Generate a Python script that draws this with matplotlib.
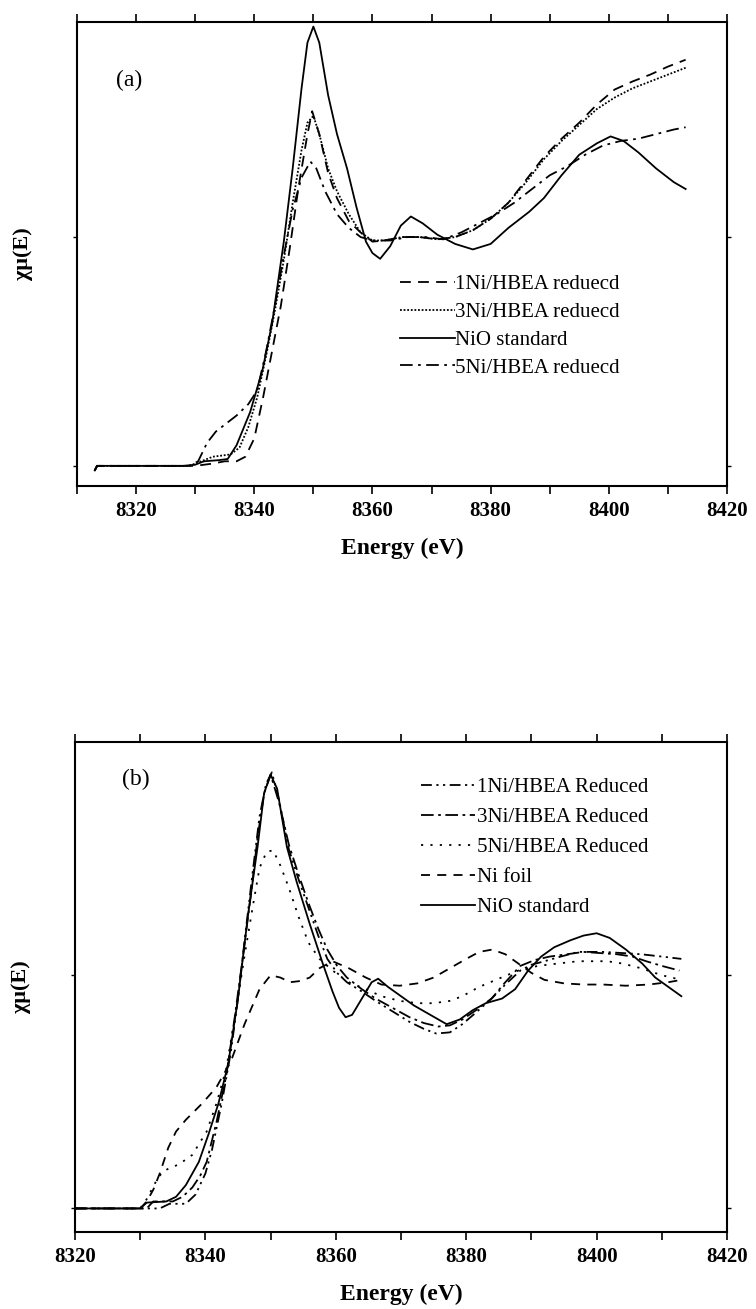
import matplotlib
matplotlib.use("Agg")
import matplotlib.pyplot as plt
from matplotlib.ticker import MultipleLocator

plt.rcParams['font.family'] = ['Liberation Serif', 'DejaVu Serif']

# panel (a) data
a_nio_e = [8313, 8313.4, 8320, 8328, 8330, 8331.5, 8334, 8335.5, 8337, 8339.3, 8341.4, 8343, 8345,
           8346.5, 8348, 8349, 8350, 8351, 8352.5, 8354, 8355.7, 8357.3, 8358.9, 8360, 8361.3,
           8363, 8364.8, 8366.5, 8368.5, 8371, 8374, 8377, 8380, 8383, 8386.5, 8389, 8392,
           8395, 8398, 8400.3, 8402.5, 8405, 8408, 8411, 8413]
a_nio = [-0.02, 0, 0, 0, 0.005, 0.02, 0.025, 0.03, 0.09, 0.235, 0.42, 0.62, 0.98,
         1.30, 1.65, 1.85, 1.92, 1.85, 1.62, 1.45, 1.30, 1.13, 0.98, 0.93, 0.905,
         0.96, 1.05, 1.09, 1.06, 1.01, 0.97, 0.946, 0.97, 1.04, 1.11, 1.17, 1.27,
         1.36, 1.41, 1.44, 1.42, 1.37, 1.30, 1.24, 1.21]

a_1ni_e = [8313, 8313.4, 8320, 8330, 8333, 8335, 8337, 8338.5, 8340, 8341.5, 8343, 8344.5, 8346,
           8347.5, 8349, 8349.8, 8351, 8352.5, 8354, 8356, 8358, 8360, 8362, 8365, 8368,
           8371, 8374, 8377, 8380, 8383, 8386, 8389, 8392, 8395, 8398, 8401, 8404, 8407,
           8410, 8413]
a_1ni = [-0.02, 0, 0, 0, 0.01, 0.02, 0.02, 0.04, 0.12, 0.3, 0.5, 0.7, 0.95,
         1.22, 1.45, 1.55, 1.45, 1.28, 1.17, 1.07, 1.02, 0.98, 0.985, 1.0, 1.0,
         0.99, 1.0, 1.03, 1.08, 1.15, 1.25, 1.35, 1.43, 1.50, 1.58, 1.645, 1.68, 1.71,
         1.745, 1.775]

a_3ni_e = [8313, 8313.4, 8320, 8329, 8331, 8333, 8336, 8337.5, 8339, 8340.5, 8342, 8343.5, 8345,
           8346.5, 8348, 8349, 8350, 8351, 8352.5, 8354, 8356, 8358, 8360, 8362, 8365,
           8368, 8371, 8374, 8377, 8380, 8383, 8386, 8389, 8392, 8395, 8398, 8401, 8404,
           8407, 8410, 8413]
a_3ni = [-0.02, 0, 0, 0, 0.02, 0.04, 0.05, 0.08, 0.17, 0.3, 0.48, 0.68, 0.9,
         1.15, 1.38, 1.5, 1.53, 1.45, 1.3, 1.2, 1.1, 1.02, 0.985, 0.985, 1.0,
         1.0, 0.99, 1.0, 1.03, 1.08, 1.15, 1.24, 1.34, 1.42, 1.49, 1.56, 1.61, 1.65,
         1.68, 1.71, 1.74]

a_5ni_e = [8313, 8313.4, 8320, 8329, 8330.5, 8332, 8333.5, 8335, 8337, 8339, 8340.5, 8342, 8343.5,
           8345, 8346.5, 8348, 8349.5, 8350.5, 8352, 8354, 8356, 8358, 8360, 8363, 8366,
           8369, 8372, 8375, 8378, 8381, 8384, 8387, 8390, 8393, 8396, 8399, 8402, 8405,
           8408, 8411, 8413]
a_5ni = [-0.02, 0, 0, 0, 0.02, 0.1, 0.15, 0.18, 0.22, 0.27, 0.33, 0.5, 0.7,
         0.92, 1.12, 1.26, 1.33, 1.3, 1.2, 1.1, 1.04, 1.0, 0.985, 0.985, 1.0,
         1.0, 0.99, 1.02, 1.06, 1.10, 1.15, 1.21, 1.27, 1.31, 1.36, 1.40, 1.42, 1.43,
         1.45, 1.47, 1.48]

# panel (b) data
b_nio_e = [8320, 8330, 8331, 8334, 8335.5, 8337, 8339, 8340.5, 8342, 8343.5, 8345, 8346.5,
           8348, 8349, 8350, 8351, 8352.5, 8354, 8356, 8358, 8359.5, 8360.5, 8361.5, 8362.5,
           8364, 8365.5, 8366.5, 8368, 8370, 8372, 8374.5, 8377, 8379, 8381, 8383, 8385.5,
           8387.5, 8389.5, 8391.5, 8393.5, 8396, 8398, 8400, 8402, 8404.5, 8407, 8409,
           8411, 8413]
b_nio = [0, 0, 0.025, 0.03, 0.05, 0.1, 0.2, 0.32, 0.45, 0.62, 0.9, 1.25,
         1.55, 1.78, 1.86, 1.8, 1.55, 1.4, 1.22, 1.05, 0.93, 0.86, 0.82, 0.83,
         0.9, 0.97, 0.985, 0.95, 0.91, 0.87, 0.83, 0.79, 0.81, 0.85, 0.88, 0.9,
         0.94, 1.02, 1.08, 1.12, 1.15, 1.17, 1.18, 1.16, 1.11, 1.05, 0.99,
         0.95, 0.91]

b_foil_e = [8320, 8330, 8331, 8332, 8333, 8334.3, 8335.5, 8337, 8339.5, 8341.7, 8343.9, 8346,
            8348.3, 8350, 8351.5, 8353, 8354.5, 8356, 8357.5, 8359.5, 8362, 8364.6, 8367,
            8369.8, 8372.5, 8375, 8377.5, 8380, 8382, 8384, 8386, 8388, 8390, 8392, 8395,
            8398, 8401, 8404.5, 8408, 8411, 8413]
b_foil = [0, 0, 0.03, 0.08, 0.15, 0.26, 0.33, 0.38, 0.45, 0.52, 0.63, 0.79,
          0.94, 1.0, 0.99, 0.97, 0.975, 0.99, 1.03, 1.06, 1.03, 0.99, 0.96,
          0.955, 0.965, 0.99, 1.03, 1.07, 1.1, 1.11, 1.09, 1.05, 1.01, 0.98, 0.965,
          0.96, 0.96, 0.955, 0.96, 0.97, 0.98]

b_5ni_e = [8320, 8330, 8331, 8332.5, 8333.5, 8336, 8338, 8340.2, 8341.7, 8343.2, 8344.7, 8346.1,
           8347.3, 8348.3, 8349.4, 8350.4, 8351.5, 8352.8, 8354.3, 8355.8, 8357.5, 8359.5, 8362,
           8364.6, 8367, 8369.8, 8372.5, 8375, 8377.5, 8379.4, 8382, 8385.4, 8388, 8391, 8394,
           8397.2, 8401.6, 8404, 8406.8, 8410, 8413]
b_5ni = [0, 0, 0.04, 0.12, 0.16, 0.19, 0.23, 0.33, 0.45, 0.6, 0.85, 1.1,
         1.3, 1.46, 1.53, 1.535, 1.47, 1.375, 1.25, 1.14, 1.07, 1.02, 0.97,
         0.94, 0.91, 0.89, 0.88, 0.88, 0.89, 0.91, 0.95, 0.99, 1.02, 1.04, 1.05,
         1.06, 1.06, 1.05, 1.03, 1.0, 0.98]

b_1ni_e = [8320, 8333, 8334.5, 8337, 8338.5, 8340, 8341, 8342.5, 8343.9, 8345, 8346.1, 8347.2,
           8348.3, 8349.3, 8350.2, 8351.3, 8352.8, 8354.3, 8355.8, 8357.3, 8358.7, 8360.2,
           8361.7, 8364, 8366.1, 8368.7, 8371.3, 8373.5, 8375.4, 8377.5, 8379.4, 8381.5,
           8383.9, 8386, 8388.3, 8390, 8392, 8394.5, 8397.2, 8400.9, 8404, 8406.8, 8410, 8413]
b_1ni = [0, 0, 0.02, 0.02, 0.06, 0.15, 0.25, 0.45, 0.67, 0.9, 1.17, 1.43,
         1.68, 1.82, 1.87, 1.75, 1.54, 1.41, 1.29, 1.17, 1.07, 1.01,
         0.97, 0.93, 0.89, 0.845, 0.80, 0.77, 0.75, 0.755, 0.79, 0.84,
         0.90, 0.96, 1.02, 1.045, 1.06, 1.08, 1.10, 1.10, 1.095, 1.09, 1.08, 1.07]

b_3ni_e = [8320, 8331, 8332, 8335, 8336.5, 8338, 8339.2, 8340.2, 8341.7, 8343.2, 8344.5, 8345.8,
           8347, 8348, 8349, 8350, 8351.3, 8352.8, 8354.3, 8355.8, 8357.3, 8358.7, 8360.2,
           8361.7, 8364, 8366.1, 8368.7, 8371.3, 8373.5, 8375.7, 8377.5, 8379.4, 8381.5,
           8383.9, 8386, 8388.3, 8390.5, 8392.8, 8395.5, 8398, 8400.5, 8403.1, 8405.5,
           8407.6, 8410, 8412.7]
b_3ni = [0, 0, 0.03, 0.03, 0.05, 0.09, 0.14, 0.2, 0.37, 0.57, 0.82, 1.09,
         1.35, 1.59, 1.78, 1.86, 1.74, 1.56, 1.43, 1.31, 1.2, 1.11, 1.04,
         0.99, 0.94, 0.90, 0.86, 0.82, 0.795, 0.78, 0.785, 0.81, 0.85,
         0.90, 0.97, 1.04, 1.065, 1.08, 1.09, 1.10, 1.095, 1.09, 1.08,
         1.06, 1.04, 1.02]

lw = 1.3

fig = plt.figure(figsize=(7.56, 13.09), dpi=100)
ax1 = fig.add_axes([77/756, 1 - 486/1309, 650/756, 464/1309])
ax2 = fig.add_axes([75/756, 1 - 1232/1309, 652/756, 490/1309])


def style_axis(ax, xmin, ymin, ymax):
    ax.set_xlim(xmin, 8420)
    ax.set_ylim(ymin, ymax)
    ax.xaxis.set_major_locator(MultipleLocator(20))
    ax.xaxis.set_minor_locator(MultipleLocator(10))
    ax.set_yticks([0, 1])
    ax.set_yticklabels([])
    ax.tick_params(axis='x', which='both', direction='out', top=True, length=6, width=1.2,
                   labelsize=15, pad=5)
    ax.tick_params(axis='y', which='both', direction='out', right=True, length=3, width=1)
    for lab in ax.get_xticklabels():
        lab.set_fontweight('bold')
    for s in ax.spines.values():
        s.set_linewidth(1.5)
    ax.set_xlabel('Energy (eV)', fontsize=17, fontweight='bold', labelpad=12)
    ax.set_ylabel('χμ(E)', fontsize=16, fontweight='bold')
    ax.yaxis.set_label_coords(-0.068, 0.5)


#(a)
ax1.plot(a_1ni_e, a_1ni, color='k', lw=lw, ls=(0, (6, 4)), label='1Ni/HBEA reduecd')
ax1.plot(a_3ni_e, a_3ni, color='k', lw=lw, ls=(0, (1, 1)), label='3Ni/HBEA reduecd')
ax1.plot(a_nio_e, a_nio, color='k', lw=lw, ls='-', label='NiO standard')
ax1.plot(a_5ni_e, a_5ni, color='k', lw=lw, ls=(0, (7, 3, 1.5, 3)), label='5Ni/HBEA reduecd')
style_axis(ax1, 8310, -0.088, 1.94)
ax1.text(0.06, 0.875, '(a)', transform=ax1.transAxes, fontsize=17, va='center')
ax1.legend(loc='upper left', bbox_to_anchor=(0.497, 0.455), frameon=False, fontsize=15,
           handlelength=2.65, handletextpad=0.0, labelspacing=0.39, borderpad=0,
           borderaxespad=0)

#(b)
ax2.plot(b_1ni_e, b_1ni, color='k', lw=lw, ls=(0, (6, 2.5, 1.2, 2.5, 1.2, 2.5)),
         label='1Ni/HBEA Reduced')
ax2.plot(b_3ni_e, b_3ni, color='k', lw=lw, ls=(0, (7, 2.5, 1.5, 2.5)), label='3Ni/HBEA Reduced')
ax2.plot(b_5ni_e, b_5ni, color='k', lw=lw, ls=(0, (1.2, 4)), label='5Ni/HBEA Reduced')
ax2.plot(b_foil_e, b_foil, color='k', lw=lw, ls=(0, (5, 4)), label='Ni foil')
ax2.plot(b_nio_e, b_nio, color='k', lw=lw, ls='-', label='NiO standard')
style_axis(ax2, 8320, -0.101, 2.0)
ax2.text(0.072, 0.923, '(b)', transform=ax2.transAxes, fontsize=17, va='center')
ax2.legend(loc='upper left', bbox_to_anchor=(0.531, 0.927), frameon=False, fontsize=15,
           handlelength=2.6, handletextpad=0.1, labelspacing=0.5, borderpad=0,
           borderaxespad=0)

fig.savefig('out.png', dpi=100)
